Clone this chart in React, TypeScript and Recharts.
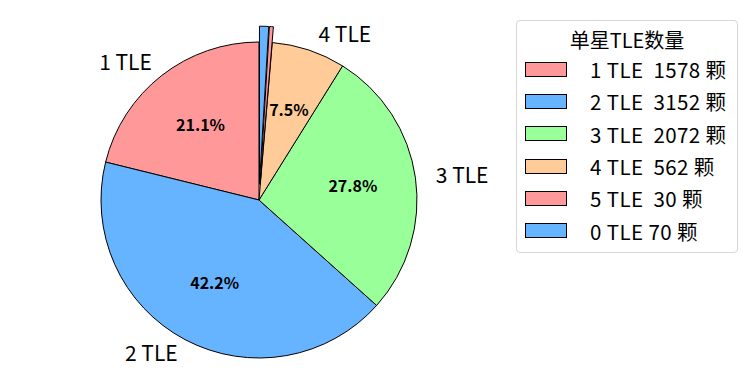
import React from "react"
import { PieChart, Pie, Cell, Legend } from "recharts"

const categories = ["1 TLE", "2 TLE", "3 TLE", "4 TLE", "5 TLE", "0 TLE"]
const counts = [1578, 3152, 2072, 562, 30, 70]
const sliceLabels = [" 1 TLE", " 2 TLE", " 3 TLE", " 4 TLE", "", ""]
const explode = [0, 0, 0, 0, 0.1, 0.1]
const colors = ["#ff9999", "#66b3ff", "#99ff99", "#ffcc99", "#ff9999", "#66b3ff"]
const legendTitle = "单星TLE数量"
const legendLabels = ["1 TLE  1578 颗", "2 TLE  3152 颗", "3 TLE  2072 颗", "4 TLE  562 颗", "5 TLE  30 颗", "0 TLE 70 颗"]

const FONT = "'Noto Sans CJK SC', 'Noto Sans', sans-serif"
const CX = 259
const CY = 200
const R = 158
const RAD = Math.PI / 180

if (typeof document !== "undefined") document.body.style.margin = "0"

const data = categories.map((name, i) => ({ name, value: counts[i] }))
const total = counts.reduce((a, b) => a + b, 0)

// explode offsets along each slice's middle angle (matplotlib style)
const offsets = counts.map((v, i) => {
  const before = counts.slice(0, i).reduce((a, b) => a + b, 0)
  const mid = (90 + (360 * (before + v / 2)) / total) * RAD
  return { dx: explode[i] * R * Math.cos(mid), dy: -explode[i] * R * Math.sin(mid) }
})

function renderLabel(props: any) {
  const { midAngle, index, percent } = props
  const off = offsets[index]
  const cx = CX + off.dx
  const cy = CY + off.dy
  const cos = Math.cos(-midAngle * RAD)
  const sin = Math.sin(-midAngle * RAD)
  const lx = cx + R * 1.1 * cos
  const ly = cy + R * 1.1 * sin
  const px = cx + R * 0.6 * cos
  const py = cy + R * 0.6 * sin
  return (
    <g key={`lbl-${index}`}>
      {sliceLabels[index] && (
        <text x={lx} y={ly - 2} textAnchor={lx > cx ? "start" : "end"} dominantBaseline="central"
          fontFamily={FONT} fontSize={21} fill="#000" style={{ whiteSpace: "pre" }}>
          {sliceLabels[index]}
        </text>
      )}
      {percent > 0.01 && (
        <text x={px} y={py - 1.5} textAnchor="middle" dominantBaseline="central"
          fontFamily={FONT} fontSize={16} fontWeight="bold" fill="#000">
          {`${(percent * 100).toFixed(1)}%`}
        </text>
      )}
    </g>
  )
}

function LegendBox() {
  return (
    <div style={{
      width: 222, height: 233, border: "1px solid #d6d6d6", borderRadius: 4,
      background: "white", fontFamily: FONT, color: "#000", boxSizing: "border-box",
    }}>
      <div style={{ textAlign: "center", fontSize: 20, lineHeight: "24px", marginTop: 7, marginBottom: 1 }}>{legendTitle}</div>
      {legendLabels.map((t, i) => (
        <div key={t} style={{ display: "flex", alignItems: "center", height: 32.3 }}>
          <span style={{
            display: "inline-block", width: 42, height: 15, marginLeft: 8, background: colors[i],
            border: "1px solid #000", boxSizing: "border-box", flexShrink: 0,
          }} />
          <span style={{ marginLeft: 23, fontSize: 20.5, whiteSpace: "pre", lineHeight: "24px", letterSpacing: 0.4 }}>{t}</span>
        </div>
      ))}
    </div>
  )
}

export default function App() {
  return (
    <div style={{ width: 748, height: 389, background: "white" }}>
      <PieChart width={748} height={389} margin={{ top: 0, right: 0, bottom: 0, left: 0 }}>
        {data.map((_, i) => (
          <Pie
            key={`pie-${i}`}
            data={data}
            dataKey="value"
            nameKey="name"
            cx={CX + offsets[i].dx}
            cy={CY + offsets[i].dy}
            outerRadius={R}
            startAngle={90}
            endAngle={450}
            isAnimationActive={false}
            labelLine={false}
            label={i === 0 ? renderLabel : false}
            legendType={i === 0 ? "rect" : "none"}
          >
            {data.map((_, j) => (
              <Cell
                key={`c-${i}-${j}`}
                fill={j === i ? colors[j] : "none"}
                stroke={j === i ? "#000" : "none"}
                strokeWidth={1}
              />
            ))}
          </Pie>
        ))}
        <Legend
          content={() => <LegendBox />}
          wrapperStyle={{ position: "absolute", left: 516, top: 20, width: 222, height: 233 }}
        />
      </PieChart>
    </div>
  )
}
